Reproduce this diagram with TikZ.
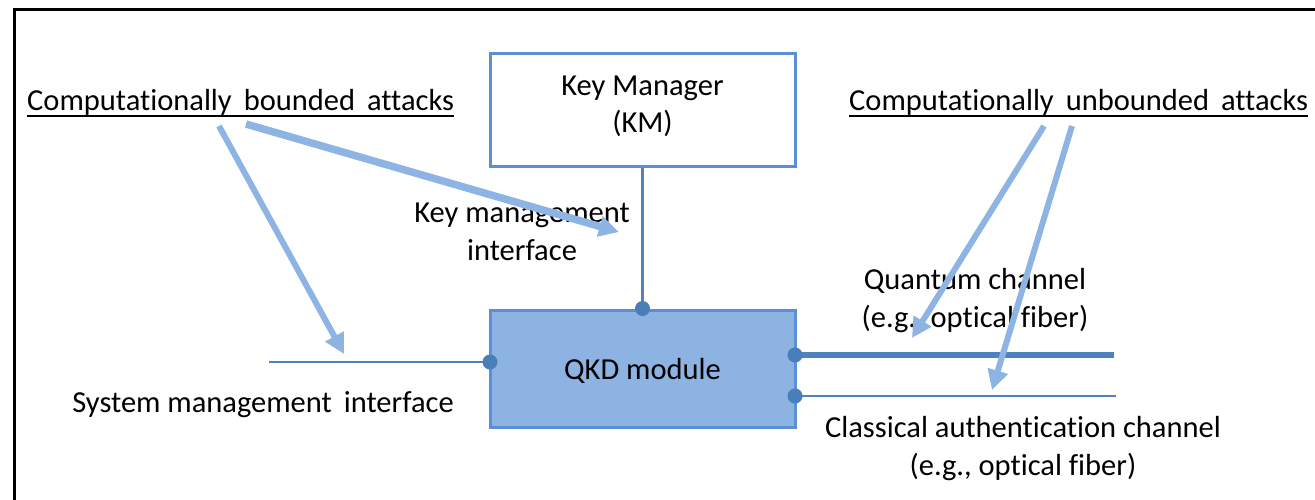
\documentclass[tikz,border=0pt]{standalone}
\usepackage{fontspec}
\setmainfont{Carlito}[Ligatures=NoCommon]
\usetikzlibrary{arrows.meta}
\definecolor{boxline}{HTML}{5B8FD4}
\definecolor{qkdfill}{HTML}{8DB3E2}
\definecolor{wire}{HTML}{4F81BD}
\definecolor{dotc}{HTML}{4A7EBB}
\definecolor{attack}{HTML}{8EB4E3}
\begin{document}
\begin{tikzpicture}[x=1pt,y=-1pt,
  every node/.style={font=\fontsize{30.5}{38}\selectfont, text=black},
  boxnode/.style={draw=boxline, line width=3pt, minimum width=305pt, minimum height=113pt, inner sep=0pt, align=center},
  lbl/.style={align=center, inner sep=0pt},
  wireline/.style={draw=wire, line width=2.6pt},
  thickwire/.style={draw=wire, line width=6pt},
  dotmark/.style={fill=dotc},
  attackarrow/.style={draw=attack, line width=6pt, -{Triangle[length=20pt,width=20pt]}},
  uline/.style={draw=black, line width=1.6pt}
]
\useasboundingbox (0,0) rectangle (1315,499);
% frame (right and bottom lie outside the picture)
\draw[line width=2.5pt] (14.5,520) -- (14.5,9.5) -- (1330,9.5);

% boxes
\node[boxnode, fill=white] (km) at (642.5,109.5) {};
\node[lbl] (kmt) at (642.5,106) {Key Manager\\[-1pt](KM)};
\node[boxnode, fill=qkdfill, minimum height=117pt] (qkd) at (642.5,368.5) {};
\node[lbl] (qkdt) at (642.5,371) {QKD module};

% wires
\coordinate (qsys) at (490,362);
\coordinate (sysend) at (269,362);
\coordinate (qq) at (795,355);
\coordinate (qqend) at (1114,355);
\coordinate (qc) at (795,396);
\coordinate (qcend) at (1116,396);

\draw[wireline] (km.south) -- (qkd.north);
\draw[wireline] (sysend) -- (qsys);
\draw[thickwire] (qq) -- (qqend);
\draw[wireline] (qc) -- (qcend);
\fill[dotmark] (qkd.north) circle (7.5);
\fill[dotmark] (qsys) circle (7.5);
\fill[dotmark] (qq) circle (7.5);
\fill[dotmark] (qc) circle (7.5);

% labels
\node[lbl] (kmi) at (522,232) {Key management\\interface};
\node[lbl] (smi) at (263,405) {System management\, interface};
\node[lbl] (qch) at (975,301) {Quantum channel\\(e.g., optical fiber)};
\node[lbl] (cch) at (1023,449) {Classical authentication channel\\(e.g., optical fiber)};

% attack titles
\node[lbl, anchor=base west] (cb) at (27,110) {Computationally\, bounded\, attacks};
\node[lbl, anchor=base west] (cu) at (849,110) {Computationally\, unbounded\, attacks};
\draw[uline] ([yshift=-6pt]cb.base west) -- ([yshift=-6pt]cb.base east);
\draw[uline] ([yshift=-6pt]cu.base west) -- ([yshift=-6pt]cu.base east);

% attack arrows
\coordinate (a1s) at (219,126); \coordinate (a1e) at (344,354);
\coordinate (a2s) at (246,124); \coordinate (a2e) at (619,232);
\coordinate (a3s) at (1044,126); \coordinate (a3e) at (912,338);
\coordinate (a4s) at (1072,126); \coordinate (a4e) at (992,390);
\draw[attackarrow] (a1s) -- (a1e);
\draw[attackarrow, line width=7.5pt] (a2s) -- (a2e);
\draw[attackarrow] (a3s) -- (a3e);
\draw[attackarrow] (a4s) -- (a4e);
\end{tikzpicture}
\end{document}
